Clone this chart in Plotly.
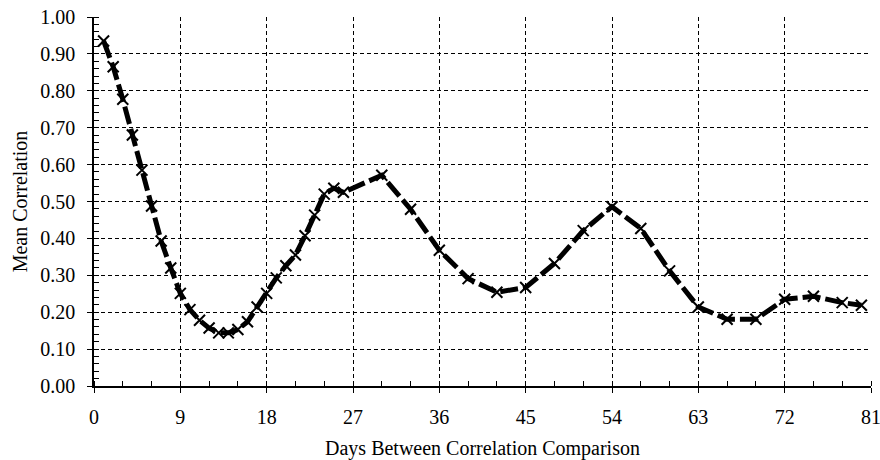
import plotly.graph_objects as go

days = list(range(1, 27)) + [30, 33, 36, 39, 42, 45, 48, 51, 54, 57, 60, 63, 66, 69, 72, 75, 78, 80]
mean_corr = [0.935, 0.865, 0.777, 0.680, 0.585, 0.488, 0.393, 0.320, 0.251, 0.207,
             0.178, 0.157, 0.144, 0.144, 0.153, 0.174, 0.214, 0.251, 0.293, 0.326,
             0.355, 0.407, 0.463, 0.520, 0.536, 0.525,
             0.571, 0.479, 0.368, 0.291, 0.254, 0.267, 0.332, 0.421, 0.486, 0.427,
             0.312, 0.214, 0.181, 0.181, 0.235, 0.243, 0.226, 0.219]

x_ticks = [0, 9, 18, 27, 36, 45, 54, 63, 72, 81]
y_ticks = [round(i * 0.1, 1) for i in range(11)]

fig = go.Figure()
fig.add_trace(go.Scatter(
    x=days, y=mean_corr, mode="lines+markers",
    line=dict(color="black", width=5, dash="18px,5px"),
    marker=dict(symbol="x-thin-open", size=11, color="black",
                line=dict(color="black", width=2)),
    showlegend=False,
))

font = dict(family="Liberation Serif, Times New Roman, serif", size=20, color="black")

fig.update_layout(
    width=880, height=460,
    margin=dict(l=94, r=9, t=17, b=74),
    paper_bgcolor="white", plot_bgcolor="white",
    font=font,
    xaxis=dict(
        range=[0, 81], tickvals=x_ticks, ticktext=[str(v) for v in x_ticks],
        automargin=False, ticklabeloverflow="allow",
        showline=True, linecolor="black", linewidth=1.5,
        ticks="outside", ticklen=5, tickcolor="black", tickwidth=1,
        showgrid=True, gridcolor="black", gridwidth=1, griddash="4px,3px",
        zeroline=False,
        minor=dict(dtick=3, tick0=0, ticks="inside", ticklen=5, tickcolor="black", showgrid=False),
        title=dict(text="Days Between Correlation Comparison", standoff=17, font=font),
        ticklabelstandoff=7,
    ),
    yaxis=dict(
        range=[0, 1.0], tickvals=y_ticks, ticktext=[f"{v:.2f}" for v in y_ticks],
        automargin=False, ticklabeloverflow="allow",
        showline=True, linecolor="black", linewidth=1.5,
        ticks="outside", ticklen=5, tickcolor="black", tickwidth=1,
        showgrid=True, gridcolor="black", gridwidth=1, griddash="4px,3px",
        zeroline=False,
        minor=dict(dtick=0.02, tick0=0, ticks="inside", ticklen=5, tickcolor="black", showgrid=False),
        title=dict(text="Mean Correlation", standoff=7, font=font),
        ticklabelstandoff=8,
    ),
)

fig.write_html("out.html", config={"displayModeBar": False})

# remove the default page margin so the figure sits at the window's top-left corner
with open("out.html", "r", encoding="utf-8") as f:
    html = f.read()
html = html.replace("<head>", "<head><style>html,body{margin:0;padding:0;overflow:hidden;}</style>", 1)
with open("out.html", "w", encoding="utf-8") as f:
    f.write(html)
